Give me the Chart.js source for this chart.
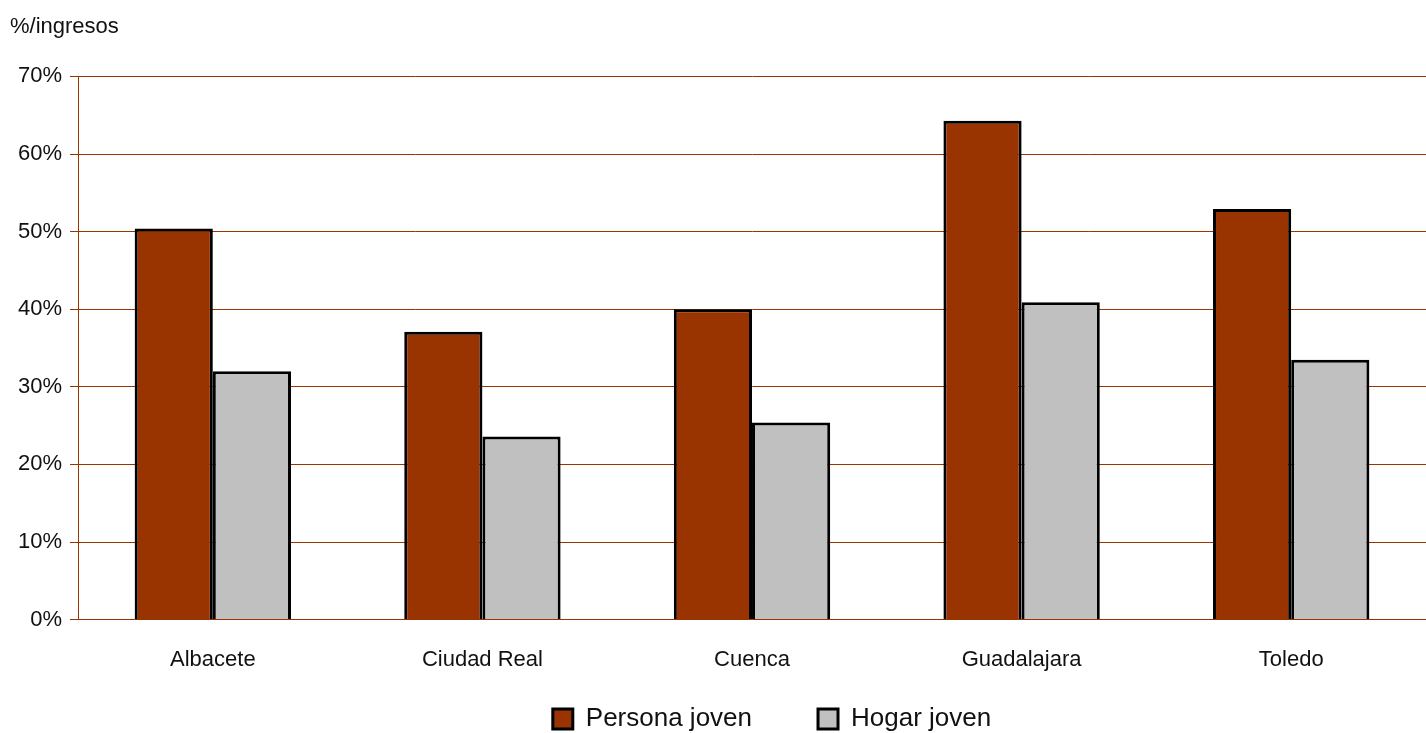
<!DOCTYPE html>
<html>
<head>
<meta charset="utf-8">
<script src="https://cdn.jsdelivr.net/npm/chart.js@4"></script>
<style>
  body { margin: 0; background: #fff; }
  .wrap { width: 1426px; height: 733px; }
</style>
</head>
<body>
<div class="wrap"><canvas id="myChart"></canvas></div>
<script>
const ctx = document.getElementById('myChart').getContext('2d');
const fontName = '"Liberation Sans", Arial, sans-serif';
const brown = '#993300';

const labels = ['Albacete', 'Ciudad Real', 'Cuenca', 'Guadalajara', 'Toledo'];
const personaJoven = [50.4, 37.1, 40.0, 64.3, 52.9];
const hogarJoven = [32.0, 23.6, 25.4, 40.9, 33.5];

const data = {
  labels: labels,
  datasets: [
    {
      label: 'Persona joven',
      data: personaJoven,
      backgroundColor: '#993300',
      borderColor: '#000',
      borderWidth: 3,
      categoryPercentage: 0.58,
      barPercentage: 1
    },
    {
      label: 'Hogar joven',
      data: hogarJoven,
      backgroundColor: '#c0c0c0',
      borderColor: '#000',
      borderWidth: 3,
      categoryPercentage: 0.58,
      barPercentage: 1
    }
  ]
};

// wide gap between legend items, but keep the legend box short
const legendPad = 66;
const legendGap = {
  id: 'legendGap',
  beforeLayout(chart) {
    const lg = chart.legend;
    if (lg && !lg._short) {
      const fit = lg.fit;
      lg.fit = function () {
        fit.call(this);
        this.height = 41;
      };
      lg._short = true;
    }
  },
  afterLayout(chart) {
    const lg = chart.legend;
    lg.top = 706 - legendPad;
    // legend sits a bit right of centre in the original
    lg.left += 54;
    lg.right += 54;
  }
};

const config = {
  type: 'bar',
  data: data,
  options: {
    responsive: true,
    maintainAspectRatio: false,
    animation: false,
    layout: { padding: { left: 10, right: 0, top: 0, bottom: 0 } },
    plugins: {
      title: {
        display: true,
        text: '%/ingresos',
        align: 'start',
        color: '#111',
        font: { family: fontName, size: 22, weight: 'normal' },
        padding: { top: 14, bottom: 36 }
      },
      legend: {
        position: 'bottom',
        labels: {
          color: '#111',
          font: { family: fontName, size: 26 },
          boxWidth: 20,
          boxHeight: 20,
          padding: legendPad
        }
      },
      tooltip: { enabled: false }
    },
    scales: {
      x: {
        grid: { display: false },
        border: { display: true, color: brown, width: 1 },
        ticks: {
          color: '#111',
          font: { family: fontName, size: 22 },
          padding: 19
        }
      },
      y: {
        min: 0,
        max: 70,
        grid: { color: brown, tickLength: 8, lineWidth: 1 },
        border: { display: true, color: brown, width: 1 },
        ticks: {
          stepSize: 10,
          color: '#111',
          font: { family: fontName, size: 22 },
          padding: 8,
          callback: (v) => v + '%'
        }
      }
    }
  },
  plugins: [legendGap]
};

const myChart = new Chart(ctx, config);
</script>
</body>
</html>
